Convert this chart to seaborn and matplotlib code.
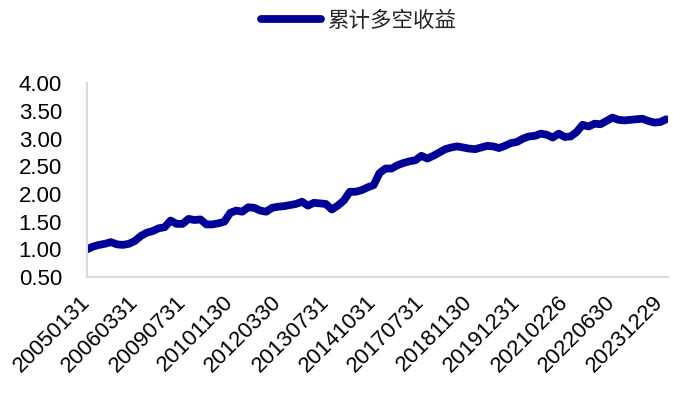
import matplotlib
matplotlib.use("Agg")
import matplotlib.pyplot as plt
from matplotlib.font_manager import FontProperties
import seaborn as sns
import pandas as pd

series_name = "累计多空收益"
tick_labels = ["20050131", "20060331", "20090731", "20101130", "20120330",
               "20130731", "20141031", "20170731", "20181130", "20191231",
               "20210226", "20220630", "20231229"]
label_step = 8
values = [1.00, 1.05, 1.08, 1.10, 1.13, 1.09, 1.08, 1.10, 1.15, 1.24,
          1.30, 1.33, 1.38, 1.40, 1.52, 1.46, 1.46, 1.55, 1.53, 1.54,
          1.45, 1.45, 1.47, 1.50, 1.66, 1.70, 1.68, 1.76, 1.75, 1.70,
          1.68, 1.75, 1.77, 1.78, 1.80, 1.82, 1.86, 1.79, 1.84, 1.83,
          1.82, 1.72, 1.79, 1.88, 2.04, 2.04, 2.07, 2.12, 2.16, 2.38,
          2.46, 2.46, 2.52, 2.56, 2.59, 2.61, 2.69, 2.64, 2.69, 2.75,
          2.81, 2.84, 2.86, 2.84, 2.82, 2.81, 2.84, 2.87, 2.86, 2.83,
          2.87, 2.92, 2.94, 3.00, 3.04, 3.05, 3.09, 3.07, 3.02, 3.09,
          3.03, 3.04, 3.12, 3.25, 3.22, 3.27, 3.26, 3.32, 3.38, 3.34,
          3.33, 3.34, 3.35, 3.36, 3.32, 3.29, 3.30, 3.35]
yticks = [0.5, 1.0, 1.5, 2.0, 2.5, 3.0, 3.5, 4.0]

sns.set_style("white")
plt.rcParams["font.family"] = ["Liberation Sans", "Noto Sans CJK SC"]

W, H = 681, 393
fig = plt.figure(figsize=(W / 100, H / 100), dpi=100)
ax = fig.add_axes([87 / W, (H - 277) / H, (668 - 87) / W, (277 - 83.3) / H])

df = pd.DataFrame({"idx": range(len(values)), "v": values})
sns.lineplot(data=df, x="idx", y="v", ax=ax, color="#000096", linewidth=5.6,
             legend=False)
line = ax.get_lines()[0]
line.set_solid_capstyle("round")
line.set_solid_joinstyle("round")

ax.set_xlim(0, 97.3)
ax.set_ylim(0.5, 4.0)
ax.set_yticks(yticks)
ax.set_yticklabels([f"{t:.2f}" for t in yticks])
ax.set_xticks([i * label_step for i in range(len(tick_labels))])
ax.set_xticklabels(tick_labels, rotation=45, ha="right", va="center",
                   rotation_mode="anchor")
ax.set_xlabel("")
ax.set_ylabel("")

for s in ["top", "right"]:
    ax.spines[s].set_visible(False)
for s in ["left", "bottom"]:
    ax.spines[s].set_color("#d9d9d9")
    ax.spines[s].set_linewidth(1.5)
ax.tick_params(axis="both", direction="in", length=4.5, width=1.2,
               color="#d9d9d9", labelsize=16, labelcolor="black")
ax.tick_params(axis="y", pad=18)
ax.tick_params(axis="x", pad=16)
ax.grid(False)

fig.legend([line], [series_name], loc="upper center",
           bbox_to_anchor=(359 / W, 1.025), frameon=False,
           prop=FontProperties(family="Noto Sans CJK SC", size=15.5),
           handlelength=2.8, handletextpad=0.3)

fig.savefig("out.png", dpi=100)
